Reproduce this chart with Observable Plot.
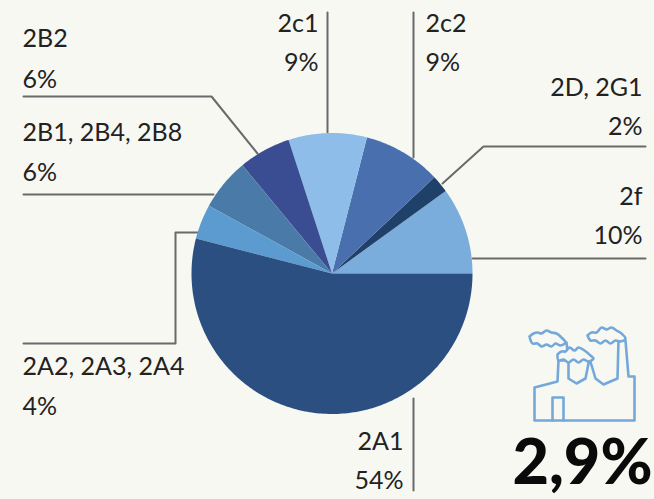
<!DOCTYPE html>
<html><head><meta charset="utf-8">
<script src="https://cdn.jsdelivr.net/npm/d3@7"></script>
<script src="https://cdn.jsdelivr.net/npm/@observablehq/plot@0.6"></script>
<style>html,body{margin:0;padding:0;background:#f7f8f2;overflow:hidden}svg{display:block}</style>
</head><body><div id="chart"></div>
<script>
const categories = ["2f","2D, 2G1","2c2","2c1","2B2","2B1, 2B4, 2B8","2A2, 2A3, 2A4","2A1"];
const shares = [10,2,9,9,6,6,4,54];
const sliceColors = ["#7aacdc","#1f4068","#4a6fae","#8dbde8","#3a4d92","#4a7aa8","#5b9bd0","#2c4f82"];
const total = "2,9%";

// Label layout (anchor, x, y of name and share lines)
const labelX = [642,642,425,318,22,22,22,403];
const labelAnchor = ["end","end","start","end","start","start","start","end"];
const nameY = [196,87,23,23,38,132,366,441];
const shareY = [235,126,62,62,79,172,406,480];

// Leader-line layout
const leaders = [
  [[472,258],[645,258]],
  [[442,183],[483,146],[645,146]],
  [[413,12],[413,157]],
  [[327,12],[327,132]],
  [[23,96],[211,96],[257,153]],
  [[23,194],[213,194]],
  [[23,343],[175,343],[175,232],[197,232]],
  [[413,398],[413,490]]
];

// Factory icon outlines, in reference pixels
const iconPaths = [
  [[534,420],[534,387],[557,381],[558,360],[568,360],[568,378],[576,383],[585,378],[589,358],[595,378],[603,384],[617,378],[618,340],[625,340],[628,376],[634,376],[634,420],[534,420]],
  [[552,420],[552,397],[563,397],[563,420]],
  [[562,343],[566,342],[568,360]]
];
const cloudPaths = [
  [[529,336],[533,333],[537,332],[541,333],[546,330],[551,332],[556,333],[561,337],[565,342],[560,345],[555,343],[551,346],[546,344],[541,346],[537,343],[532,343],[529,336]],
  [[557,354],[561,351],[565,351],[569,347],[574,350],[578,347],[584,350],[590,355],[593,358],[588,361],[583,359],[578,362],[573,359],[568,362],[563,359],[558,360],[557,354]],
  [[587,335],[591,332],[596,332],[601,327],[606,329],[611,327],[616,330],[621,333],[625,338],[620,341],[615,340],[610,343],[605,340],[600,343],[595,340],[590,340],[587,335]]
];

const cx = 331.5, cy = 273, r = 140.5;
const arcs = d3.pie().sort(null).value(d => d)(shares);
const slices = arcs.flatMap((a, i) => {
  const steps = Math.max(2, Math.ceil((a.endAngle - a.startAngle) * 60));
  const pts = [{i, x: cx, y: cy}];
  for (let s = 0; s <= steps; s++) {
    const t = a.startAngle + (a.endAngle - a.startAngle) * s / steps;
    pts.push({i, x: cx + r * Math.cos(t), y: cy - r * Math.sin(t)});
  }
  pts.push({i, x: cx, y: cy});
  return pts;
});
const toRows = paths => paths.flatMap((p, k) => p.map(([x, y]) => ({k, x, y})));
const labels = categories.flatMap((c, i) => [
  {text: c, x: labelX[i], y: nameY[i], a: labelAnchor[i]},
  {text: shares[i] + "%", x: labelX[i], y: shareY[i], a: labelAnchor[i]}
]);
const textOpts = {x: "x", y: "y", text: "text", fontSize: 25, fill: "#222222", lineAnchor: "middle"};

const chart = Plot.plot({
  width: 654, height: 499,
  margin: 0,
  style: {background: "#f7f8f2", fontFamily: "Lato, sans-serif"},
  x: {domain: [0, 654], range: [0, 654], axis: null},
  y: {domain: [0, 499], range: [0, 499], axis: null},
  color: {type: "ordinal", domain: d3.range(categories.length), range: sliceColors},
  marks: [
    Plot.line(toRows(leaders), {x: "x", y: "y", z: "k", stroke: "#6a6a6a", strokeWidth: 2, curve: "linear"}),
    Plot.line(slices, {x: "x", y: "y", z: "i", fill: "i", stroke: "none", curve: "linear"}),
    Plot.line(toRows(iconPaths), {x: "x", y: "y", z: "k", stroke: "#74a8da", strokeWidth: 2.6, curve: "linear"}),
    Plot.line(toRows(cloudPaths), {x: "x", y: "y", z: "k", stroke: "#74a8da", strokeWidth: 2.6, fill: "#f7f8f2", curve: "catmull-rom"}),
    ...["start", "end"].map(a => Plot.text(labels.filter(d => d.a === a), {...textOpts, textAnchor: a})),
    Plot.text([total], {x: () => 652, y: () => 463, text: d => d, textAnchor: "end", lineAnchor: "middle", fontSize: 63, fontWeight: 900, fill: "#0a0a0a"})
  ]
});
document.getElementById("chart").append(chart);
</script></body></html>
